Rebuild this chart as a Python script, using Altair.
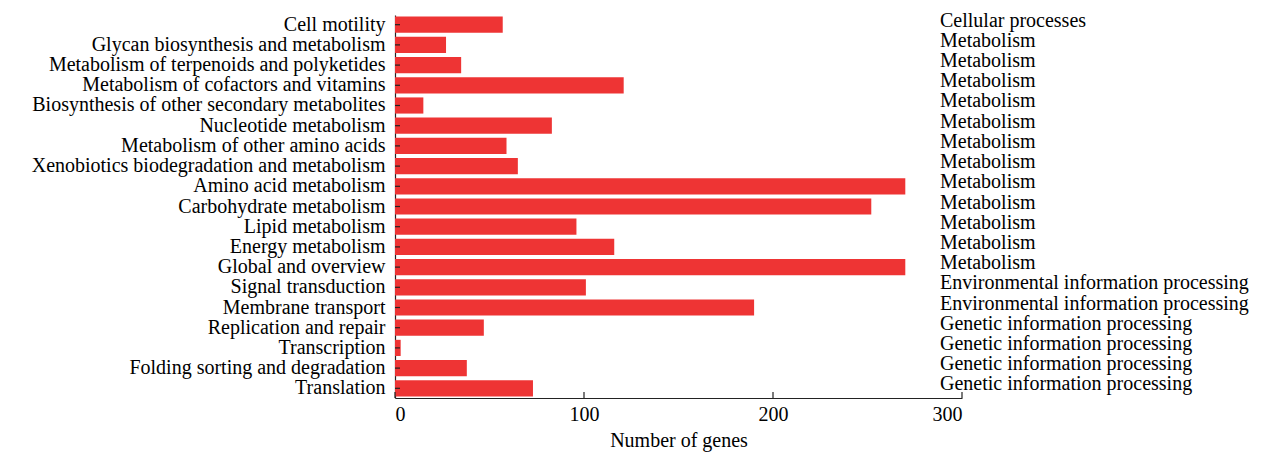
import altair as alt
import pandas as pd

# KEGG pathway categories (top to bottom), gene counts and parent classes
pathways = [
    "Cell motility",
    "Glycan biosynthesis and metabolism",
    "Metabolism of terpenoids and polyketides",
    "Metabolism of cofactors and vitamins",
    "Biosynthesis of other secondary metabolites",
    "Nucleotide metabolism",
    "Metabolism of other amino acids",
    "Xenobiotics biodegradation and metabolism",
    "Amino acid metabolism",
    "Carbohydrate metabolism",
    "Lipid metabolism",
    "Energy metabolism",
    "Global and overview",
    "Signal transduction",
    "Membrane transport",
    "Replication and repair",
    "Transcription",
    "Folding sorting and degradation",
    "Translation",
]
gene_counts = [57, 27, 35, 121, 15, 83, 59, 65, 270, 252, 96, 116, 270, 101, 190, 47, 3, 38, 73]
classes = [
    "Cellular processes",
    "Metabolism", "Metabolism", "Metabolism", "Metabolism", "Metabolism",
    "Metabolism", "Metabolism", "Metabolism", "Metabolism", "Metabolism",
    "Metabolism", "Metabolism",
    "Environmental information processing", "Environmental information processing",
    "Genetic information processing", "Genetic information processing",
    "Genetic information processing", "Genetic information processing",
]
x_ticks = [0, 100, 200, 300]

df = pd.DataFrame({"pathway": pathways, "genes": gene_counts, "cls": classes})
ticks_df = pd.DataFrame({"v": x_ticks})

W, H = 567, 383
FONT = "Liberation Serif"
FS = 20

y_scale = alt.Scale(paddingInner=0.2, paddingOuter=0.08)
x_scale = alt.Scale(domain=[0, 300], nice=False)

bars = alt.Chart(df).mark_bar(color="#EE3434").encode(
    x=alt.X(
        "genes:Q",
        scale=x_scale,
        axis=alt.Axis(
            title="Number of genes", values=x_ticks, ticks=False, grid=False,
            labelFont=FONT, labelFontSize=FS, labelColor="black", labelPadding=6,
            titleFont=FONT, titleFontSize=FS, titleFontWeight="normal",
            titleColor="black", titlePadding=6,
            domainColor="#222222", domainWidth=1.2,
        ),
    ),
    y=alt.Y(
        "pathway:N",
        sort=pathways,
        scale=y_scale,
        axis=alt.Axis(
            title=None, ticks=False, grid=False, labelPadding=10, labelFont=FONT,
            labelFontSize=FS, labelColor="black", domainColor="#222222",
            domainWidth=1.2, labelLimit=500,
        ),
    ),
)

# short inward ticks on the category axis
y_ticks = alt.Chart(df).mark_rule(color="#222222", strokeWidth=1.2).encode(
    x=alt.value(0), x2=alt.value(5),
    y=alt.Y("pathway:N", sort=pathways),
)

# short inward ticks on the value axis
x_tick_marks = alt.Chart(ticks_df).mark_rule(color="#222222", strokeWidth=1.2).encode(
    x=alt.X("v:Q"), y=alt.value(H - 6), y2=alt.value(H),
)

# parent class labels to the right of the bars
class_labels = alt.Chart(df).mark_text(
    align="left", baseline="middle", font=FONT, fontSize=FS, color="black", dy=-4,
).encode(
    x=alt.value(545),
    y=alt.Y("pathway:N", sort=pathways),
    text="cls:N",
)

chart = (
    alt.layer(bars, y_ticks, x_tick_marks, class_labels)
    .properties(
        width=W, height=H,
        background="white",
        autosize=alt.AutoSizeParams(type="none"),
        padding={"left": 395, "top": 15, "right": 1282 - 395 - W, "bottom": 453 - 15 - H},
    )
    .configure_view(strokeWidth=0)
    .configure_axis(grid=False)
)

chart.save("out.html", embed_options={"renderer": "svg", "actions": False})
